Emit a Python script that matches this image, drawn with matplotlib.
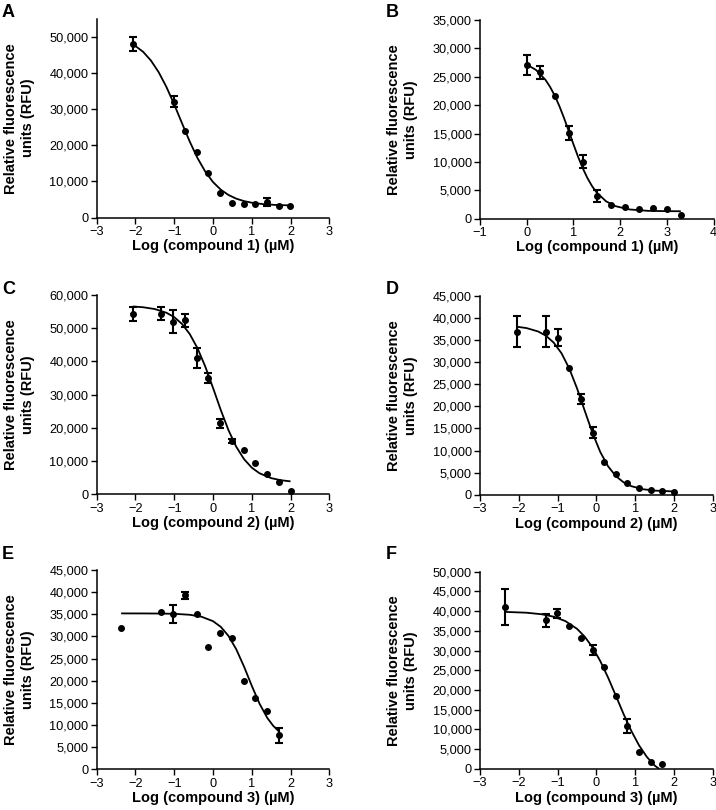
import matplotlib
matplotlib.use("Agg")
import matplotlib.pyplot as plt
import numpy as np

plt.rcParams['font.family'] = ['Liberation Sans', 'DejaVu Sans']

# ---------------- data ----------------
# Panel A
a_x = [-2.06, -1.01, -0.72, -0.42, -0.12, 0.18, 0.49, 0.79, 1.09, 1.39, 1.69, 1.99]
a_y = [48000, 32000, 24000, 18200, 12350, 6800, 4060, 3870, 3780, 4340, 3320, 3320]
a_err = [2000, 1500, 0, 0, 0, 0, 0, 0, 0, 1200, 0, 0]
a_fit_x = [-2.06, -1.8, -1.6, -1.4, -1.2, -1.0, -0.8, -0.6, -0.4, -0.2, 0.0, 0.2, 0.4, 0.6, 0.8, 1.0, 1.3, 1.6, 2.0]
a_fit_y = [47910, 45800, 43400, 40170, 36080, 31280, 26110, 21030, 16480, 12740, 9850, 7750, 6270, 5260, 4585, 4140, 3740, 3530, 3395]

# Panel B
b_x = [0.0, 0.29, 0.6, 0.9, 1.2, 1.5, 1.8, 2.1, 2.4, 2.7, 3.0, 3.3]
b_y = [27070, 25780, 21670, 15150, 10040, 4000, 2470, 2050, 1700, 1820, 1760, 590]
b_err = [1800, 1100, 0, 1200, 1100, 1050, 0, 0, 0, 0, 0, 0]
b_fit_x = [0.0, 0.2, 0.4, 0.5, 0.6, 0.7, 0.8, 0.9, 1.0, 1.1, 1.2, 1.3, 1.4, 1.5, 1.7, 1.9, 2.2, 2.6, 3.0, 3.3]
b_fit_y = [27160, 26200, 24480, 23230, 21680, 19830, 17720, 15450, 13130, 10910, 8900, 7160, 5730, 4600, 3060, 2210, 1630, 1384, 1330, 1310]

# Panel C
c_x = [-2.07, -1.33, -1.02, -0.71, -0.42, -0.12, 0.19, 0.49, 0.79, 1.09, 1.39, 1.69, 2.0]
c_y = [54300, 54400, 52000, 52400, 41000, 34900, 21400, 16000, 13200, 9400, 6100, 3600, 1100]
c_err = [2000, 2000, 3500, 2000, 3000, 1500, 1300, 600, 0, 0, 0, 0, 0]
c_fit_x = [-2.07, -1.8, -1.5, -1.2, -1.0, -0.8, -0.6, -0.4, -0.2, 0.0, 0.2, 0.4, 0.6, 0.8, 1.0, 1.2, 1.5, 1.75, 2.0]
c_fit_y = [56550, 56310, 55770, 54650, 53330, 51290, 48250, 43990, 38480, 32060, 25390, 19290, 14300, 10600, 8020, 6330, 4870, 4240, 3890]

# Panel D
d_x = [-2.05, -1.31, -1.0, -0.7, -0.4, -0.1, 0.2, 0.5, 0.8, 1.1, 1.4, 1.7, 2.0]
d_y = [36900, 36900, 35500, 28650, 21650, 14000, 7350, 4600, 2580, 1440, 1060, 760, 600]
d_err = [3450, 3450, 1950, 0, 1200, 1250, 0, 0, 0, 0, 0, 0, 0]
d_fit_x = [-2.05, -1.8, -1.5, -1.3, -1.1, -0.9, -0.7, -0.5, -0.3, -0.1, 0.1, 0.3, 0.5, 0.7, 0.9, 1.2, 1.5, 2.0]
d_fit_y = [37990, 37680, 36910, 35950, 34390, 32000, 28550, 24080, 18980, 13950, 9670, 6450, 4230, 2820, 1950, 1260, 945, 760]

# Panel E
e_x = [-2.37, -1.33, -1.02, -0.71, -0.42, -0.12, 0.18, 0.49, 0.79, 1.09, 1.39, 1.69]
e_y = [32000, 35540, 35010, 39300, 35090, 27560, 30800, 29740, 19880, 16040, 13180, 7670]
e_err = [0, 0, 2000, 750, 0, 0, 0, 0, 0, 0, 0, 1700]
e_fit_x = [-2.37, -1.8, -1.4, -1.0, -0.6, -0.3, 0.0, 0.2, 0.4, 0.6, 0.8, 1.0, 1.2, 1.4, 1.55, 1.69]
e_fit_y = [35200, 35190, 35170, 35110, 34890, 34460, 33450, 32170, 30110, 27100, 23200, 18860, 14820, 11610, 9850, 8650]

# Panel F
f_x = [-2.35, -1.31, -1.01, -0.70, -0.40, -0.10, 0.2, 0.5, 0.8, 1.1, 1.4, 1.7]
f_y = [41050, 37660, 39430, 36300, 33260, 30140, 25830, 18550, 10900, 4300, 1770, 1260]
f_err = [4500, 1700, 1150, 0, 0, 1350, 0, 0, 1700, 0, 0, 0]
f_fit_x = [-2.35, -1.8, -1.4, -1.1, -0.8, -0.5, -0.3, -0.1, 0.1, 0.3, 0.5, 0.7, 0.9, 1.1, 1.3, 1.5, 1.62]
f_fit_y = [39810, 39600, 39200, 38590, 37480, 35520, 33510, 30810, 27340, 23180, 18580, 13920, 9620, 5950, 3040, 860, 0]

# axis ticks / labels
a_yticks = [0, 10000, 20000, 30000, 40000, 50000]
b_yticks = [0, 5000, 10000, 15000, 20000, 25000, 30000, 35000]
c_yticks = [0, 10000, 20000, 30000, 40000, 50000, 60000]
d_yticks = [0, 5000, 10000, 15000, 20000, 25000, 30000, 35000, 40000, 45000]
e_yticks = [0, 5000, 10000, 15000, 20000, 25000, 30000, 35000, 40000, 45000]
f_yticks = [0, 5000, 10000, 15000, 20000, 25000, 30000, 35000, 40000, 45000, 50000]
std_xticks = [-3, -2, -1, 0, 1, 2, 3]
b_xticks = [-1, 0, 1, 2, 3, 4]

panel_letters = ['A', 'B', 'C', 'D', 'E', 'F']
x_labels = ['Log (compound 1) (µM)', 'Log (compound 1) (µM)',
            'Log (compound 2) (µM)', 'Log (compound 2) (µM)',
            'Log (compound 3) (µM)', 'Log (compound 3) (µM)']
y_label = 'Relative fluorescence\nunits (RFU)'

# ---------------- layout ----------------
W, H = 716, 810
fig = plt.figure(figsize=(W / 100, H / 100), dpi=100)

def box(left, right, top, bottom):
    return [left / W, 1 - bottom / H, (right - left) / W, (bottom - top) / H]

panels = [
    dict(pos=box(96.7, 329.3, 18.6, 217.7), x=a_x, y=a_y, err=a_err, fx=a_fit_x, fy=a_fit_y,
         xlim=(-3, 3), ylim=(0, 55000), xt=std_xticks, yt=a_yticks, letter=(2, 4)),
    dict(pos=box(480, 713.5, 20.0, 218.7), x=b_x, y=b_y, err=b_err, fx=b_fit_x, fy=b_fit_y,
         xlim=(-1, 4), ylim=(0, 35000), xt=b_xticks, yt=b_yticks, letter=(386, 4)),
    dict(pos=box(96.7, 329.3, 295.0, 494.3), x=c_x, y=c_y, err=c_err, fx=c_fit_x, fy=c_fit_y,
         xlim=(-3, 3), ylim=(0, 60000), xt=std_xticks, yt=c_yticks, letter=(2, 281)),
    dict(pos=box(480, 712.8, 295.7, 494.8), x=d_x, y=d_y, err=d_err, fx=d_fit_x, fy=d_fit_y,
         xlim=(-3, 3), ylim=(0, 45000), xt=std_xticks, yt=d_yticks, letter=(386, 281)),
    dict(pos=box(96.7, 329.3, 570.0, 769.3), x=e_x, y=e_y, err=e_err, fx=e_fit_x, fy=e_fit_y,
         xlim=(-3, 3), ylim=(0, 45000), xt=std_xticks, yt=e_yticks, letter=(2, 546)),
    dict(pos=box(480, 712.8, 571.7, 768.9), x=f_x, y=f_y, err=f_err, fx=f_fit_x, fy=f_fit_y,
         xlim=(-3, 3), ylim=(0, 50000), xt=std_xticks, yt=f_yticks, letter=(386, 546)),
]

for i, p in enumerate(panels):
    ax = fig.add_axes(p['pos'])
    ax.plot(p['fx'], p['fy'], color='black', lw=1.3, solid_capstyle='butt')
    x = np.array(p['x']); y = np.array(p['y']); e = np.array(p['err'])
    m = e > 0
    ax.errorbar(x[m], y[m], yerr=e[m], fmt='none', ecolor='black',
                elinewidth=1.5, capsize=2.7, capthick=1.5, clip_on=False)
    ax.plot(x, y, 'o', color='black', ms=4.0, clip_on=False)
    ax.set_xlim(*p['xlim'])
    ax.set_ylim(*p['ylim'])
    ax.set_xticks(p['xt'])
    ax.set_yticks(p['yt'])
    ax.set_yticklabels([f"{v:,}" for v in p['yt']])
    for s in ['top', 'right']:
        ax.spines[s].set_visible(False)
    for s in ['left', 'bottom']:
        ax.spines[s].set_linewidth(1.1)
    ax.tick_params(direction='out', length=4, width=1.0, labelsize=9.2, pad=2, colors='black')
    ax.set_xlabel(x_labels[i], fontsize=10.5, fontweight='bold', labelpad=1)
    ax.set_ylabel(y_label, fontsize=10.5, fontweight='bold', linespacing=1.3)
    ax.yaxis.set_label_coords(-0.265, 0.5)
    lx, ly = p['letter']
    fig.text(lx / W, 1 - ly / H, panel_letters[i], fontsize=13, fontweight='bold',
             ha='left', va='top')

fig.savefig('out.png', dpi=100)
